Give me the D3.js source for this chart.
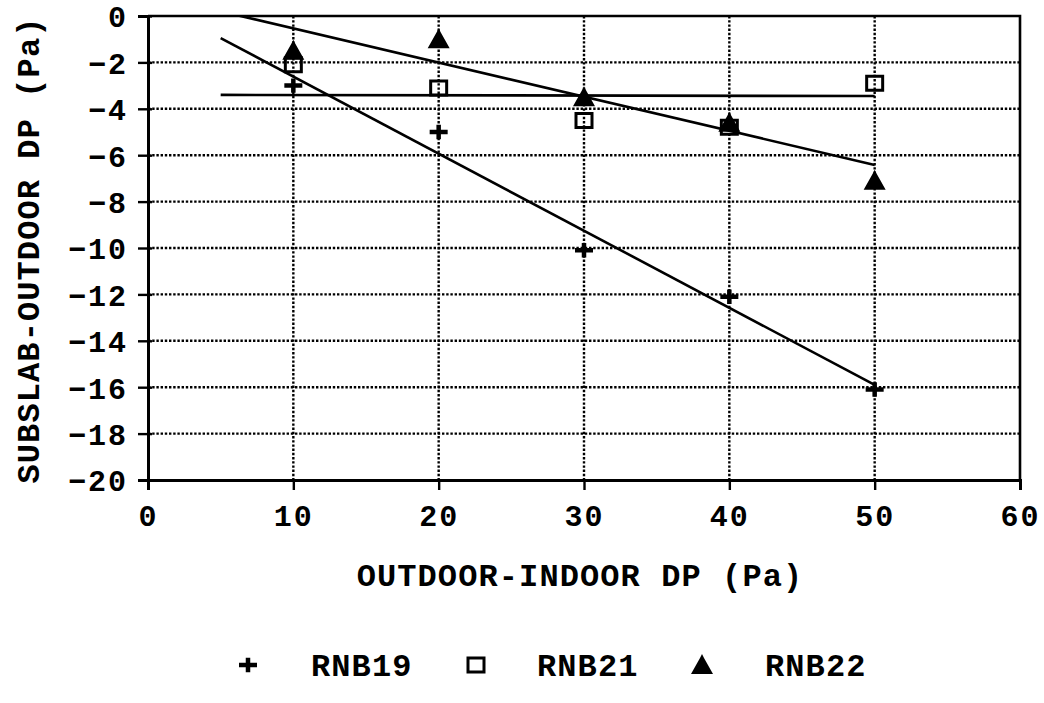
<!DOCTYPE html>
<html>
<head>
<meta charset="utf-8">
<script src="https://cdn.jsdelivr.net/npm/d3@7"></script>
<style>
  body { margin: 0; background: #fff; }
  svg { display: block; }
  .tick text, .lbl { font-family: "Liberation Mono", "DejaVu Sans Mono", monospace; font-weight: bold; fill: #000; }
</style>
</head>
<body>
<svg id="chart" width="1044" height="703"></svg>
<script>
// values
var xTicks = [0, 10, 20, 30, 40, 50, 60];
var yTicks = [0, -2, -4, -6, -8, -10, -12, -14, -16, -18, -20];
var pressureX = [10, 20, 30, 40, 50];
var rnb19 = [-3, -5, -10.1, -12.1, -16.1];
var rnb21 = [-2.1, -3.1, -4.5, -4.8, -2.9];
var rnb22 = [-1.5, -1.0, -3.5, -4.6, -7.1];
// fitted lines, start and end
var fitX = [5, 50];
var fit19 = [-0.95, -15.9];
var fit21 = [-3.4, -3.45];
var fit22 = [0.2, -6.42];
var seriesNames = ["RNB19", "RNB21", "RNB22"];

(function() {
  var svg = d3.select("#chart");
  var pl = 148, pr = 1020, pt = 16, pb = 480;

  var x = d3.scaleLinear().domain([0, 60]).range([pl, pr]);
  var y = d3.scaleLinear().domain([-20, 0]).range([pb, pt]);

  svg.append("clipPath").attr("id", "plotclip")
    .append("rect").attr("x", pl).attr("y", pt).attr("width", pr - pl).attr("height", pb - pt);

  // dotted grid
  var grid = svg.append("g").attr("stroke", "#000").attr("stroke-width", 2.4).attr("stroke-dasharray", "2.4,1.8");
  grid.selectAll(".gh").data(yTicks.filter(function(d){ return d > -20 && d < 0; }))
    .enter().append("line")
    .attr("x1", pl).attr("x2", pr)
    .attr("y1", function(d){ return y(d); }).attr("y2", function(d){ return y(d); });
  grid.selectAll(".gv").data(xTicks.filter(function(d){ return d > 0 && d < 60; }))
    .enter().append("line")
    .attr("y1", pt).attr("y2", pb)
    .attr("x1", function(d){ return x(d); }).attr("x2", function(d){ return x(d); });

  // frame top + right
  svg.append("path")
    .attr("d", "M" + pl + "," + pt + "H" + pr + "V" + pb)
    .attr("fill", "none").attr("stroke", "#000").attr("stroke-width", 2.6);

  // axes
  var xAxis = svg.append("g").attr("transform", "translate(0," + pb + ")")
    .call(d3.axisBottom(x).tickValues(xTicks).tickSize(10).tickPadding(15).tickFormat(d3.format("d")));
  var yAxis = svg.append("g").attr("transform", "translate(" + pl + ",0)")
    .call(d3.axisLeft(y).tickValues(yTicks).tickSize(10).tickPadding(10).tickFormat(function(d){ return d < 0 ? "\u2212" + Math.abs(d) : d; }));

  [xAxis, yAxis].forEach(function(a){
    a.select(".domain").attr("stroke-width", 3).attr("stroke", "#000");
    a.selectAll(".tick line").attr("stroke-width", 2.4).attr("stroke", "#000");
    a.selectAll(".tick text").style("font-size", "30px").style("letter-spacing", "2px");
  });
  yAxis.selectAll(".tick line").attr("x2", -10).attr("x1", 4);
  yAxis.selectAll(".tick text").attr("dy", "0.36em");

  // fitted lines
  var fits = [fit19, fit21, fit22];
  var line = d3.line().x(function(d){ return x(d[0]); }).y(function(d){ return y(d[1]); });
  svg.append("g").attr("clip-path", "url(#plotclip)")
    .selectAll("path").data(fits).enter().append("path")
    .attr("d", function(f){ return line(fitX.map(function(v, i){ return [v, f[i]]; })); })
    .attr("fill", "none").attr("stroke", "#000").attr("stroke-width", 2.6);

  // markers
  function plusPath(s) { return "M" + (-s) + ",0H" + s + "M0," + (-s * 0.8) + "V" + (s * 0.8); }
  var squarePath = "M-8,-7H8V7H-8Z";
  var triPath = "M0,-11L2,-7L11,9L-11,9L-2,-7Z";

  function styleMarker(sel, kind) {
    if (kind === 0) sel.attr("d", plusPath(9)).attr("stroke", "#000").attr("stroke-width", 4.5).attr("fill", "none");
    if (kind === 1) sel.attr("d", squarePath).attr("stroke", "#000").attr("stroke-width", 3).attr("fill", "none");
    if (kind === 2) sel.attr("d", triPath).attr("fill", "#000");
  }
  function drawMarkers(vals, kind) {
    var sel = svg.append("g").selectAll("path").data(vals).enter().append("path")
      .attr("transform", function(d, i){ return "translate(" + x(pressureX[i]) + "," + y(d) + ")"; });
    styleMarker(sel, kind);
  }
  drawMarkers(rnb22, 2);
  drawMarkers(rnb21, 1);
  drawMarkers(rnb19, 0);

  // axis titles
  svg.append("text").attr("class", "lbl")
    .attr("x", (pl + pr) / 2 - 4).attr("y", 586)
    .attr("text-anchor", "middle")
    .style("font-size", "32px").style("letter-spacing", "1.1px")
    .text("OUTDOOR-INDOOR DP (Pa)");
  svg.append("text").attr("class", "lbl")
    .attr("transform", "translate(39,250) rotate(-90)")
    .attr("text-anchor", "middle")
    .style("font-size", "32px").style("letter-spacing", "1.1px")
    .text("SUBSLAB-OUTDOOR DP (Pa)");

  // legend
  var legendX = [248, 476, 702];
  var legendTextX = [311, 537, 765];
  var legY = 665;
  var leg = svg.append("g");
  seriesNames.forEach(function(name, i){
    var m = leg.append("path").attr("transform", "translate(" + legendX[i] + "," + legY + ")");
    styleMarker(m, i);
    leg.append("text").attr("class", "lbl")
      .attr("x", legendTextX[i]).attr("y", legY + 11)
      .style("font-size", "32px").style("letter-spacing", "1.1px")
      .text(name);
  });
})();
</script>
</body>
</html>
